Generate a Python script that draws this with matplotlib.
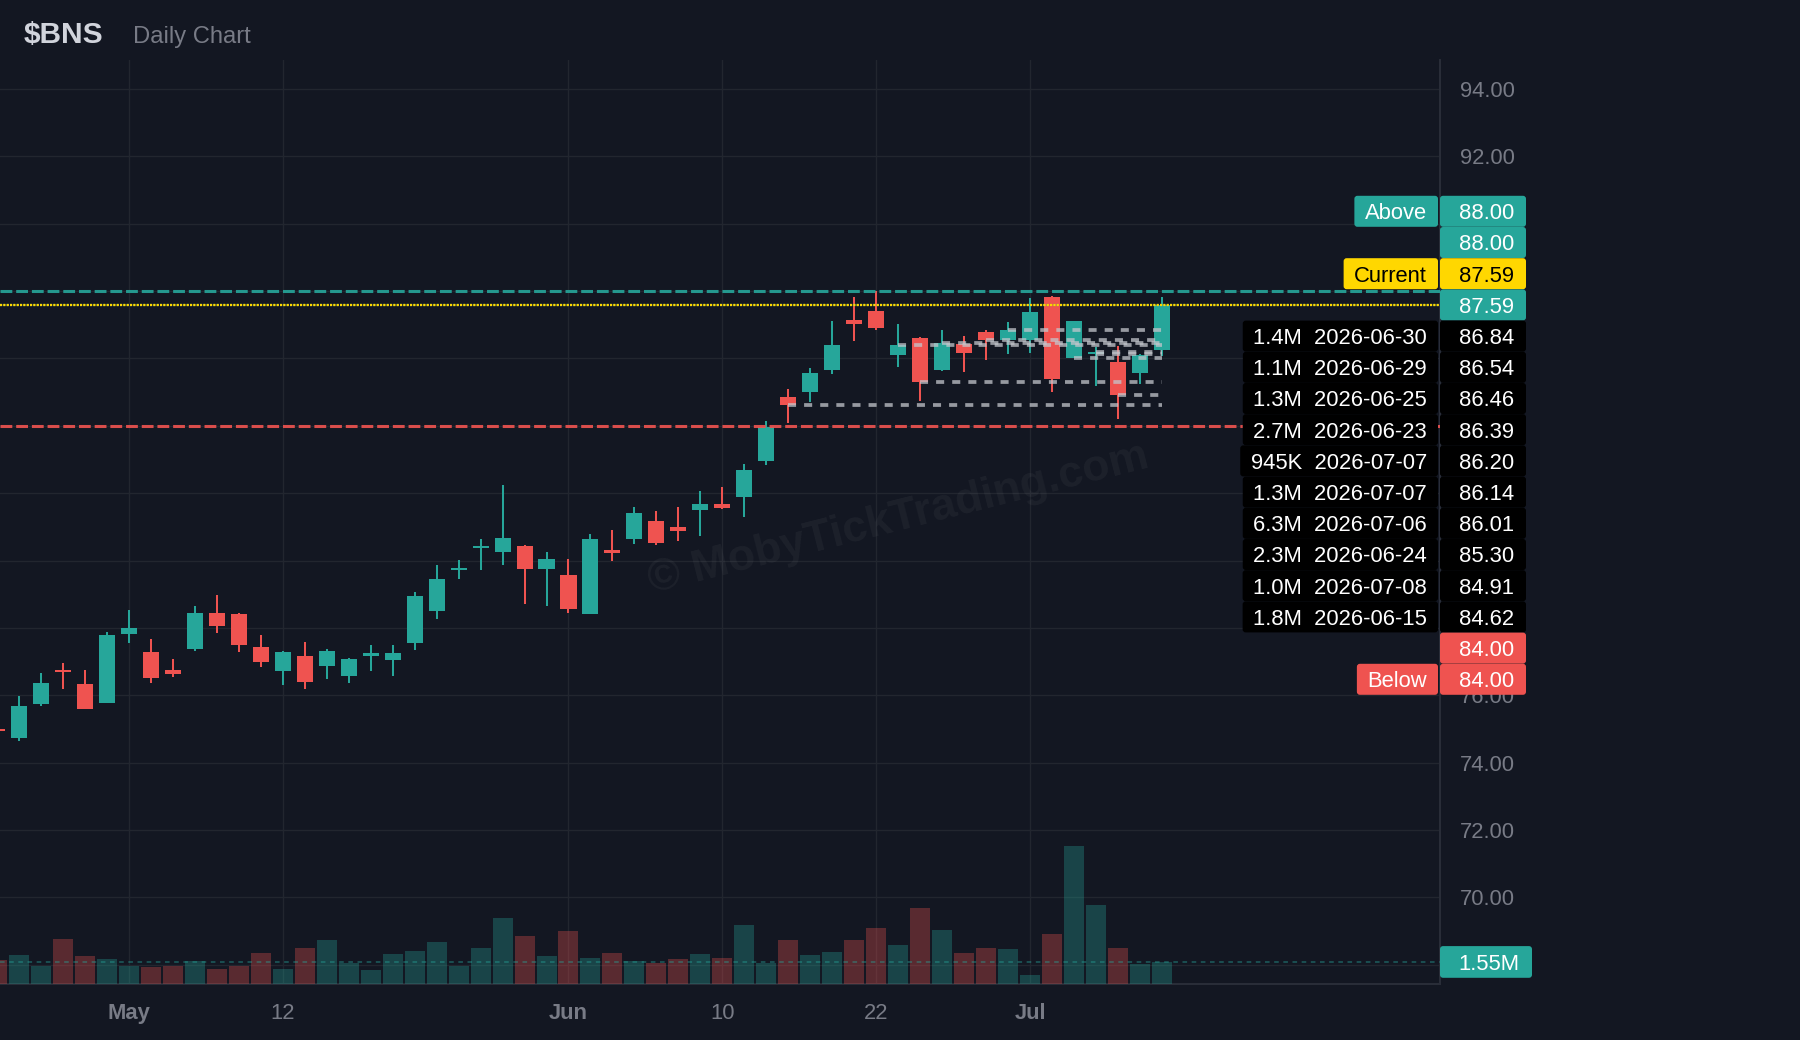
import matplotlib
matplotlib.use("Agg")
import numpy as np
import matplotlib.pyplot as plt
from matplotlib.patches import FancyBboxPatch
from matplotlib.transforms import IdentityTransform

plt.rcParams['font.family'] = ['Liberation Sans', 'DejaVu Sans']
plt.rcParams['lines.scale_dashes'] = False

# ---------------- data ----------------
ticker = r"\$BNS"
subtitle = "Daily Chart"

dates = ["2026-04-23", "2026-04-24", "2026-04-27", "2026-04-28", "2026-04-29", "2026-04-30",
         "2026-05-01", "2026-05-04", "2026-05-05", "2026-05-06", "2026-05-07", "2026-05-08",
         "2026-05-11", "2026-05-12", "2026-05-13", "2026-05-14", "2026-05-15", "2026-05-18",
         "2026-05-19", "2026-05-20", "2026-05-21", "2026-05-22", "2026-05-26", "2026-05-27",
         "2026-05-28", "2026-05-29", "2026-06-01", "2026-06-02", "2026-06-03", "2026-06-04",
         "2026-06-05", "2026-06-08", "2026-06-09", "2026-06-10", "2026-06-11", "2026-06-12",
         "2026-06-15", "2026-06-16", "2026-06-17", "2026-06-18", "2026-06-22", "2026-06-23",
         "2026-06-24", "2026-06-25", "2026-06-26", "2026-06-29", "2026-06-30", "2026-07-01",
         "2026-07-02", "2026-07-06", "2026-07-07", "2026-07-08", "2026-07-09", "2026-07-10"]

opens = [75.00, 74.74, 75.75, 76.72, 76.34, 75.78, 77.83, 77.30, 76.76, 77.38,
         78.45, 78.42, 77.44, 76.73, 77.18, 76.88, 76.58, 77.18, 77.06, 77.56,
         78.49, 79.71, 80.36, 80.24, 80.42, 79.76, 79.58, 78.42, 80.30, 80.65,
         81.16, 81.01, 81.49, 81.69, 81.90, 82.97, 84.87, 84.99, 85.65, 87.13,
         87.40, 86.09, 86.60, 85.65, 86.42, 86.78, 86.54, 86.54, 87.82, 86.01,
         86.14, 85.88, 85.56, 86.24]
highs = [75.02, 75.99, 76.67, 76.97, 76.76, 77.89, 78.54, 77.68, 77.09, 78.66,
         78.99, 78.44, 77.80, 77.33, 77.59, 77.38, 77.12, 77.50, 77.50, 79.08,
         79.88, 80.03, 80.65, 82.23, 80.45, 80.24, 80.06, 80.80, 80.92, 81.58,
         81.46, 81.58, 82.08, 82.17, 82.88, 84.13, 85.08, 85.71, 87.10, 87.82,
         88.00, 87.01, 86.63, 86.83, 86.66, 86.83, 87.07, 87.79, 87.85, 87.10,
         86.33, 86.36, 86.12, 87.82]
lows = [74.92, 74.65, 75.69, 76.20, 75.60, 75.78, 77.56, 76.37, 76.55, 77.32,
        77.86, 77.30, 76.85, 76.31, 76.20, 76.49, 76.37, 76.73, 76.58, 77.35,
        78.27, 79.44, 79.73, 79.88, 78.72, 78.66, 78.45, 78.42, 80.00, 80.48,
        80.45, 80.59, 80.74, 81.52, 81.28, 82.85, 84.07, 84.70, 85.53, 86.51,
        86.83, 85.74, 84.75, 85.62, 85.59, 85.94, 86.12, 86.15, 84.99, 86.01,
        85.17, 84.19, 85.23, 86.06]
closes = [74.95, 75.69, 76.37, 76.68, 75.60, 77.80, 78.01, 76.52, 76.64, 78.45,
          78.07, 77.50, 77.00, 77.30, 76.40, 77.32, 77.09, 77.27, 77.27, 78.96,
          79.44, 79.79, 80.43, 80.68, 79.76, 80.06, 78.57, 80.65, 80.22, 81.40,
          80.53, 80.89, 81.69, 81.55, 82.70, 83.98, 84.62, 85.56, 86.39, 87.01,
          86.89, 86.39, 85.30, 86.46, 86.15, 86.54, 86.84, 87.37, 85.38, 87.10,
          86.20, 84.91, 86.09, 87.59]
# volume in millions
volumes = [1.69, 2.04, 1.27, 3.17, 1.97, 1.76, 1.27, 1.20, 1.27, 1.62,
           1.06, 1.27, 2.18, 1.06, 2.54, 3.10, 1.48, 0.99, 2.11, 2.32,
           2.96, 1.27, 2.54, 4.65, 3.38, 1.97, 3.73, 1.83, 2.18, 1.62,
           1.48, 1.76, 2.11, 1.83, 4.15, 1.48, 3.10, 2.04, 2.25, 3.10,
           3.94, 2.75, 5.35, 3.80, 2.18, 2.54, 2.46, 0.63, 3.52, 9.72,
           5.56, 2.54, 1.41, 1.55]

tick_dates = ["2026-05-01", "2026-05-12", "2026-06-01", "2026-06-10", "2026-06-22", "2026-07-01"]
tick_labels = ["May", "12", "Jun", "10", "22", "Jul"]
price_ticks = [68, 70, 72, 74, 76, 78, 80, 82, 84, 86, 88, 90, 92, 94]

above_level = 88.00
below_level = 84.00
current_price = 87.59

level_prices = [86.84, 86.54, 86.46, 86.39, 86.20, 86.14, 86.01, 85.30, 84.91, 84.62]
level_dates = ["2026-06-30", "2026-06-29", "2026-06-25", "2026-06-23", "2026-07-07",
               "2026-07-07", "2026-07-06", "2026-06-24", "2026-07-08", "2026-06-15"]
level_vols = ["1.4M", "1.1M", "1.3M", "2.7M", "945K", "1.3M", "6.3M", "2.3M", "1.0M", "1.8M"]

watermark = "© MobyTickTrading.com"

# ---------------- style ----------------
BG = '#131722'
GRID = '#22262f'
BORDER = '#2a2e39'
TXT = '#787b86'
UP = '#26a69a'
DOWN = '#ef5350'
YEL = '#ffd700'
LEVEL = '#c3c6cc'
FS = 15.8

W, H, DPI = 1800, 1040, 100
P_RIGHT, P_TOP, P_BOTTOM = 1440, 60, 984
ROW = 31.2

fig = plt.figure(figsize=(W / DPI, H / DPI), dpi=DPI, facecolor=BG)
ax = fig.add_axes([0, (H - P_BOTTOM) / H, P_RIGHT / W, (P_BOTTOM - P_TOP) / H])
ax.set_facecolor(BG)
ax2 = ax.twinx()
px = IdentityTransform()

x = np.arange(len(dates))
o = np.array(opens); h = np.array(highs); l = np.array(lows); c = np.array(closes)
v = np.array(volumes)
up = c >= o
cols = np.where(up, UP, DOWN)

# volume (semi-transparent, bottom of the pane)
ax2.bar(x, v, width=0.91, color=cols, alpha=0.32, linewidth=0, zorder=1)
ax2.axhline(v[-1], color=UP, alpha=0.5, lw=1.1, dashes=(3.3, 3.3))
ax2.set_ylim(0, 65.1)
ax2.set_yticks([])
for s in ax2.spines.values():
    s.set_visible(False)

# candles
ax.vlines(x, l, h, colors=cols, lw=1.45, zorder=3)
body_h = np.maximum(np.abs(c - o), 0.06)
ax.bar(x, body_h, bottom=np.minimum(o, c), width=0.73, color=cols, linewidth=0, zorder=4)

# alert / current lines
ax.axhline(above_level, color=UP, lw=2.2, dashes=(8.5, 2.8), alpha=0.9, zorder=5)
ax.axhline(current_price, color=UP, lw=1.6, dashes=(1.2, 1.2), zorder=5)
ax.axhline(current_price, color=YEL, lw=1.6, dashes=(1.6, 0.8), zorder=5)
ax.axhline(below_level, color=DOWN, lw=2.2, dashes=(8.5, 2.8), alpha=0.9, zorder=5)

# level lines
for p, d in zip(level_prices, level_dates):
    i0 = dates.index(d)
    ax.plot([x[i0], x[-1]], [p, p], color=LEVEL, alpha=0.75, lw=2.7,
            dashes=(5.8, 5.8), zorder=6)

# watermark
ax.text(898, H - 519, watermark, transform=px, fontsize=32, fontweight='bold',
        color='white', alpha=0.045, rotation=14.2, ha='center', va='center',
        rotation_mode='anchor', zorder=1)

# axes
ax.set_xlim(0.1365, 65.65)
ax.set_ylim(67.43, 94.86)
ax.yaxis.tick_right()

# label stack geometry (display pixels)
y0 = ax.transData.transform((0, closes[-1]))[1]
n = len(level_prices)
stack_top = y0 + 3 * ROW + 15.5
stack_bot = y0 - (2 + n) * ROW - 15.5
yv = ax2.transData.transform((0, v[-1]))[1]

# price tick labels hidden behind the label boxes are left blank
ylabels = []
for t in price_ticks:
    ty = ax.transData.transform((0, t))[1]
    covered = (stack_bot < ty < stack_top) or (abs(ty - yv) < 15.8)
    ylabels.append("" if covered else f"{t:.2f}")
ax.set_yticks(price_ticks)
ax.set_yticklabels(ylabels)
ax.set_xticks([dates.index(d) for d in tick_dates])
ax.set_xticklabels(tick_labels)
for lbl, t in zip(ax.get_xticklabels(), tick_labels):
    if t.isalpha():
        lbl.set_fontweight('bold')
ax.tick_params(axis='y', length=0, pad=14.4, labelsize=FS, labelcolor=TXT)
ax.tick_params(axis='x', length=0, pad=13.7, labelsize=FS, labelcolor=TXT)
ax.grid(True, color=GRID, lw=1.0)
ax.set_axisbelow(True)
for s in ['left', 'top']:
    ax.spines[s].set_visible(False)
for s in ['right', 'bottom']:
    ax.spines[s].set_color(BORDER)
    ax.spines[s].set_linewidth(1.4)

# title
fig.text(23.7, H - 42.7, ticker, transform=px, fontsize=21.5, fontweight='bold',
         color='#d1d4dc', va='baseline')
fig.text(133, H - 42.7, subtitle, transform=px, fontsize=17.1, color=TXT, va='baseline')

# stacked price labels on the right
renderer = fig.canvas.get_renderer()


def add_row(k, value, face, fg='white', tag=None, box_w=86):
    yc = y0 + k * ROW
    fig.add_artist(FancyBboxPatch((P_RIGHT, yc - 15.5), box_w, 31,
                                  boxstyle='round,pad=0,rounding_size=3',
                                  fc=face, ec='none', transform=px, zorder=5))
    fig.text(P_RIGHT + box_w - 11.7, yc, value, transform=px, ha='right',
             va='center_baseline', fontsize=FS, color=fg, zorder=6)
    if tag:
        t = fig.text(1427, yc, tag, transform=px, ha='right', va='center_baseline',
                     fontsize=FS, color=fg, zorder=6)
        tw = t.get_window_extent(renderer).width
        fig.add_artist(FancyBboxPatch((1427 - tw - 10.5, yc - 15.5), tw + 21.5, 31,
                                      boxstyle='round,pad=0,rounding_size=3',
                                      fc=face, ec='none', transform=px, zorder=5))


add_row(3, f"{above_level:.2f}", UP, tag="Above")
add_row(2, f"{above_level:.2f}", UP)
add_row(1, f"{current_price:.2f}", YEL, fg='black', tag="Current")
add_row(0, f"{closes[-1]:.2f}", UP)
for k, (p, d, vol) in enumerate(zip(level_prices, level_dates, level_vols)):
    add_row(-1 - k, f"{p:.2f}", 'black', tag=f"{vol}  {d}")
add_row(-1 - n, f"{below_level:.2f}", DOWN)
add_row(-2 - n, f"{below_level:.2f}", DOWN, tag="Below")

# last volume label
fig.add_artist(FancyBboxPatch((P_RIGHT, yv - 15.8), 92, 31.7,
                              boxstyle='round,pad=0,rounding_size=3',
                              fc=UP, ec='none', transform=px, zorder=5))
fig.text(P_RIGHT + 92 - 12.4, yv, f"{v[-1]:.2f}M", transform=px, ha='right',
         va='center_baseline', fontsize=FS, color='white', zorder=6)

fig.savefig("out.png", dpi=DPI, facecolor=BG)
